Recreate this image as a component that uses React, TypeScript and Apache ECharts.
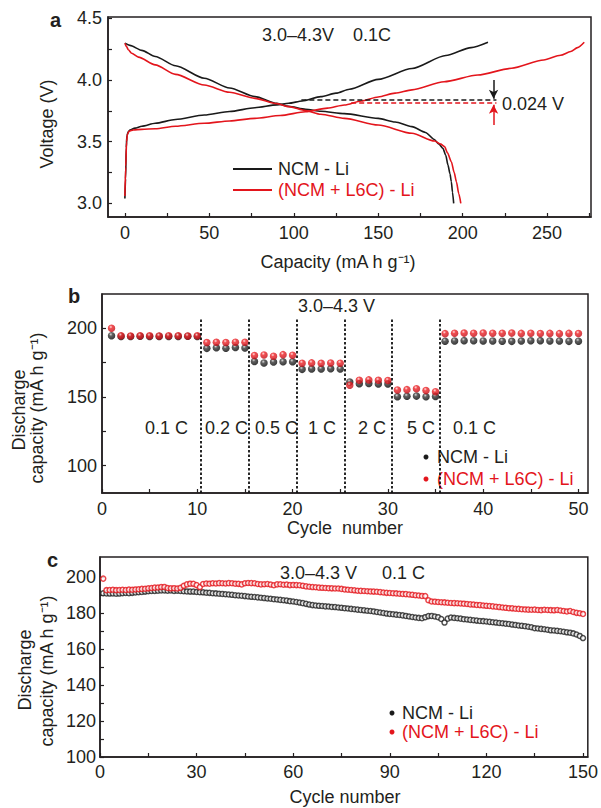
import React, { useEffect, useRef } from "react";
import * as echarts from "echarts";

const FONT = '"Liberation Sans", Arial, Helvetica, sans-serif';
const AX = "#231f20";
const TXT = "#231f20";
const RED = "#e3151c";
const BLK = "#1a1a1a";

// ---------- Panel a: charge/discharge curves [capacity, voltage] ----------
const aBlackCharge: [number, number][] = [
  [0, 3.04], [0.4, 3.2], [0.8, 3.45], [1.2, 3.55], [2, 3.58], [3, 3.595], [6, 3.61], [10, 3.625],
  [18, 3.649], [30, 3.68], [47, 3.716], [62, 3.745], [77, 3.775], [90, 3.798], [97, 3.811],
  [105, 3.83], [116, 3.865], [125, 3.893], [133, 3.925], [150, 4.005], [170, 4.093], [190, 4.198],
  [205, 4.262], [215, 4.305],
];
const aRedCharge: [number, number][] = [
  [0, 3.06], [0.5, 3.3], [1, 3.5], [1.5, 3.56], [2.5, 3.585], [5, 3.595], [10, 3.6], [18, 3.605],
  [30, 3.625], [47, 3.649], [62, 3.668], [77, 3.689], [92, 3.712], [107, 3.743], [120, 3.772],
  [130, 3.797], [140, 3.83], [150, 3.862], [160, 3.893], [170, 3.92], [189, 3.986], [209, 4.04],
  [229, 4.095], [248, 4.162], [258, 4.2], [264, 4.23], [268, 4.262], [272, 4.305],
];
const aBlackDischarge: [number, number][] = [
  [0, 4.298], [3, 4.28], [10, 4.24], [18, 4.19], [30, 4.115], [47, 4.014], [62, 3.935], [77, 3.865],
  [90, 3.81], [97, 3.786], [107, 3.762], [116, 3.746], [130, 3.727], [150, 3.689], [160, 3.66],
  [170, 3.622], [178, 3.575], [183, 3.52], [186, 3.48], [188.3, 3.446], [190, 3.39], [191.3, 3.311],
  [192.5, 3.24], [193.3, 3.176], [194, 3.09], [194.7, 3.0],
];
const aRedDischarge: [number, number][] = [
  [0, 4.298], [1, 4.27], [2, 4.245], [4, 4.216], [8, 4.185], [18, 4.122], [30, 4.045], [47, 3.959],
  [62, 3.9], [77, 3.851], [90, 3.808], [97, 3.784], [107, 3.752], [116, 3.722], [130, 3.689],
  [150, 3.635], [170, 3.568], [183.4, 3.505], [187, 3.48], [189.3, 3.46], [191, 3.41], [193.3, 3.338],
  [195, 3.25], [196.3, 3.176], [197.7, 3.08], [198.9, 3.0],
];
// mid-voltage guides [startCap, endCap, voltage]
const aBlackMid = [104.5, 220, 3.836];
const aRedMid = [134, 220, 3.812];
// arrows [cap, fromV, toV]
const aBlackArrow = [218.3, 4.0, 3.848];
const aRedArrow = [218.3, 3.635, 3.8];

const aXLabels = [0, 50, 100, 150, 200, 250];
const aXTicks = [0, 25, 50, 75, 100, 125, 150, 175, 200, 225, 250, 275];
const aYLabels = [3.0, 3.5, 4.0, 4.5];
const aYTicks = [3.0, 3.25, 3.5, 3.75, 4.0, 4.25, 4.5];

// ---------- Panel b: rate capability ----------
const bBlack = [
  194.6, 194.1, 194.0, 194.2, 194.0, 194.1, 194.0, 194.1, 194.2, 194.0,
  185.4, 185.8, 185.5, 186.0, 185.6,
  175.9, 174.7, 175.4, 175.6, 175.6,
  170.1, 170.4, 170.3, 170.5, 170.3,
  160.9, 159.6, 159.8, 159.4, 159.5,
  150.2, 150.5, 150.6, 150.1, 150.4,
  190.6, 190.8, 191.0, 190.9, 190.8, 190.7, 190.6, 190.5, 190.7, 190.9, 191.0, 190.8, 190.7, 190.5, 190.6,
];
const bRed = [
  200.0, 194.6, 194.4, 194.5, 194.5, 194.4, 194.6, 194.5, 194.4, 194.5,
  189.6, 189.8, 189.7, 189.9, 189.8,
  180.2, 180.6, 179.6, 180.8, 180.4,
  174.6, 174.8, 174.5, 174.7, 174.6,
  158.5, 162.2, 162.4, 162.1, 162.0,
  155.1, 155.3, 156.0, 154.7, 153.8,
  196.1, 196.4, 196.5, 196.4, 196.5, 196.4, 196.4, 196.5, 196.3, 196.4, 196.2, 196.3, 196.1, 196.3, 196.2,
];
const bBoundaries = [10.4, 15.45, 20.45, 25.45, 30.45, 35.45];
const bBoundaryTop = 207.3;
const bRates = ["0.1 C", "0.2 C", "0.5 C", "1 C", "2 C", "5 C", "0.1 C"];
const bXLabels = [0, 10, 20, 30, 40, 50];
const bXTicks = [0, 5, 10, 15, 20, 25, 30, 35, 40, 45, 50];
const bYLabels = [100, 150, 200];
const bYTicks = [100, 125, 150, 175, 200];

// ---------- Panel c: cycling ----------
const cBlack = [
  190.9, 190.8, 190.7, 190.8, 190.6, 190.7, 190.9, 191.0, 190.9, 191.1,
  191.3, 191.5, 191.6, 191.8, 192.0, 192.1, 192.2, 192.3, 192.4, 192.4,
  192.3, 192.4, 192.2, 192.3, 192.1, 192.0, 191.9, 191.8, 191.8, 191.6,
  191.5, 191.4, 191.2, 191.1, 190.9, 190.8, 190.6, 190.5, 190.3, 190.2,
  190.0, 189.8, 189.6, 189.5, 189.3, 189.1, 188.9, 188.8, 188.6, 188.4,
  188.2, 188.0, 187.8, 187.6, 187.4, 187.2, 187.0, 186.8, 186.5, 186.3,
  186.0, 185.7, 185.4, 185.0, 184.6, 184.3, 184.1, 183.9, 183.8, 183.6,
  183.5, 183.3, 183.2, 183.0, 182.8, 182.6, 182.4, 182.2, 182.0, 181.8,
  181.6, 181.4, 181.2, 181.0, 180.8, 180.5, 180.2, 179.9, 179.6, 179.4,
  179.2, 179.0, 178.8, 178.6, 178.3, 178.0, 177.7, 177.4, 177.2, 177.0,
  177.6, 178.2, 178.3, 178.0, 177.6, 176.6, 174.6, 176.8, 177.4, 177.2,
  177.0, 176.8, 176.5, 176.3, 176.1, 175.9, 175.7, 175.5, 175.4, 175.2,
  175.0, 174.8, 174.6, 174.4, 174.2, 174.0, 173.8, 173.5, 173.3, 173.0,
  172.8, 172.6, 172.3, 172.0, 171.5, 171.3, 171.1, 170.9, 170.6, 170.3,
  170.2, 170.0, 169.8, 169.5, 169.2, 169.0, 168.6, 168.0, 167.2, 166.0,
];
const cRed = [
  199.0, 192.6, 192.7, 192.8, 192.6, 192.7, 192.8, 192.7, 192.9, 192.8,
  193.0, 193.1, 193.3, 193.4, 193.6, 193.8, 194.0, 194.1, 194.3, 194.4,
  193.8, 193.6, 193.7, 193.5, 193.9, 195.0, 195.8, 196.2, 196.1, 195.4,
  194.3, 196.0, 196.3, 196.2, 196.4, 196.3, 196.5, 196.4, 196.3, 196.5,
  196.4, 196.2, 196.1, 195.8, 196.4, 196.6, 196.5, 196.4, 196.0, 195.8,
  195.9, 196.0, 195.7, 195.3, 195.8, 195.9, 195.6, 195.7, 195.4, 195.5,
  195.4, 195.3, 195.0, 194.7, 194.5, 194.3, 194.2, 194.0, 193.9, 193.8,
  193.7, 193.6, 193.5, 193.5, 193.3, 193.0, 192.8, 192.7, 192.5, 192.3,
  192.2, 192.1, 192.0, 191.9, 191.8, 191.7, 191.5, 191.3, 191.1, 191.0,
  190.9, 190.8, 190.6, 190.5, 190.4, 190.2, 190.0, 189.8, 189.6, 189.4,
  189.3, 187.0, 186.3, 186.2, 186.0, 185.9, 185.8, 185.6, 185.5, 185.4,
  185.3, 185.2, 185.1, 184.9, 184.7, 184.6, 184.4, 184.3, 184.1, 183.9,
  183.8, 183.6, 183.4, 183.2, 183.0, 182.8, 182.6, 182.5, 182.3, 182.2,
  182.0, 181.9, 181.8, 181.7, 181.8, 181.6, 181.5, 181.7, 181.6, 181.5,
  181.4, 181.6, 181.3, 181.0, 180.8, 181.0, 180.5, 180.0, 179.8, 179.4,
];
const cXLabels = [0, 30, 60, 90, 120, 150];
const cXTicks = [0, 15, 30, 45, 60, 75, 90, 105, 120, 135, 150];
const cYLabels = [100, 120, 140, 160, 180, 200];
const cYTicks = [100, 110, 120, 130, 140, 150, 160, 170, 180, 190, 200];

const NAME_BLACK = "NCM - Li";
const NAME_RED = "(NCM + L6C) - Li";

function axis(
  kind: "x" | "y",
  gridIndex: number,
  min: number,
  max: number,
  labels: number[],
  ticks: number[],
  margin: number,
  fmt?: (v: number) => string
) {
  return {
    type: "value",
    gridIndex,
    min,
    max,
    position: kind === "x" ? "bottom" : "left",
    axisLine: { show: true, onZero: false, lineStyle: { color: AX, width: 1.5 } },
    axisTick: {
      show: true,
      inside: true,
      length: 4,
      customValues: ticks,
      lineStyle: { color: AX, width: 1.2 },
    },
    axisLabel: {
      show: true,
      customValues: labels,
      margin,
      color: TXT,
      fontSize: 18,
      fontFamily: FONT,
      formatter: fmt ? (v: number) => fmt(v) : (v: number) => String(v),
    },
    splitLine: { show: false },
    minorTick: { show: false },
  };
}

function ball(c0: string, c1: string, c2: string) {
  return new echarts.graphic.RadialGradient(0.4, 0.32, 0.65, [
    { offset: 0, color: c0 },
    { offset: 0.35, color: c1 },
    { offset: 1, color: c2 },
  ]);
}

function txt(text: string, x: number, y: number, opts: any = {}) {
  return {
    type: "text",
    x,
    y,
    rotation: opts.rotation || 0,
    style: {
      text,
      fill: opts.fill || TXT,
      fontSize: opts.fontSize || 18,
      fontFamily: FONT,
      fontWeight: opts.fontWeight || "normal",
      align: opts.align || "left",
      verticalAlign: "middle",
    },
    silent: true,
  };
}

export default function App() {
  const ref = useRef<HTMLDivElement>(null);

  useEffect(() => {
    document.body.style.margin = "0";
    if (!ref.current) return;
    const chart = echarts.init(ref.current, undefined, { renderer: "svg" });

    const lineSeries = (name: string, data: [number, number][], color: string, extra: any = {}) => ({
      type: "line",
      name,
      xAxisIndex: 0,
      yAxisIndex: 0,
      data,
      showSymbol: false,
      smooth: 0.25,
      smoothMonotone: "x",
      lineStyle: { color, width: 1.6 },
      itemStyle: { color },
      z: 3,
      ...extra,
    });

    const guide = (from: [number, number], to: [number, number], color: string, dashed: boolean, arrow: boolean) => [
      { coord: from, symbol: "none" },
      {
        coord: to,
        symbol: arrow ? "arrow" : "none",
        symbolSize: arrow ? [7, 9] : 0,
        lineStyle: { color, width: 1.5, type: dashed ? [5, 3] : "solid" },
      },
    ];

    const option: any = {
      animation: false,
      backgroundColor: "#ffffff",
      textStyle: { fontFamily: FONT },
      grid: [
        { left: 108, top: 17, width: 483, height: 200, show: true, borderColor: AX, borderWidth: 1.5, backgroundColor: "transparent" },
        { left: 102, top: 294, width: 486, height: 199, show: true, borderColor: AX, borderWidth: 1.5, backgroundColor: "transparent" },
        { left: 100, top: 557, width: 488, height: 200, show: true, borderColor: AX, borderWidth: 1.5, backgroundColor: "transparent" },
      ],
      xAxis: [
        axis("x", 0, -10, 276, aXLabels, aXTicks, 7),
        axis("x", 1, 0, 51, bXLabels, bXTicks, 7),
        axis("x", 2, 0, 151.5, cXLabels, cXTicks, 6),
      ],
      yAxis: [
        axis("y", 0, 2.89, 4.51, aYLabels, aYTicks, 6, (v) => v.toFixed(1)),
        axis("y", 1, 80, 225, bYLabels, bYTicks, 5),
        axis("y", 2, 100, 211, cYLabels, cYTicks, 4),
      ],
      series: [
        lineSeries(NAME_BLACK, aBlackCharge, BLK, {
          markLine: {
            silent: true,
            animation: false,
            symbol: ["none", "none"],
            label: { show: false },
            data: [
              guide([aBlackMid[0], aBlackMid[2]], [aBlackMid[1], aBlackMid[2]], BLK, true, false),
              guide([aBlackArrow[0], aBlackArrow[1]], [aBlackArrow[0], aBlackArrow[2]], BLK, false, true),
            ],
          },
        }),
        lineSeries(NAME_BLACK, aBlackDischarge, BLK),
        lineSeries(NAME_RED, aRedCharge, RED, {
          markLine: {
            silent: true,
            animation: false,
            symbol: ["none", "none"],
            label: { show: false },
            data: [
              guide([aRedMid[0], aRedMid[2]], [aRedMid[1], aRedMid[2]], RED, true, false),
              guide([aRedArrow[0], aRedArrow[1]], [aRedArrow[0], aRedArrow[2]], RED, false, true),
            ],
          },
        }),
        lineSeries(NAME_RED, aRedDischarge, RED),
        {
          type: "scatter",
          name: NAME_BLACK,
          xAxisIndex: 1,
          yAxisIndex: 1,
          data: bBlack.map((v, i) => [i + 1, v]),
          symbol: "circle",
          symbolSize: 7.5,
          itemStyle: { color: ball("#d0d0d0", "#3a3a3a", "#0a0a0a"), borderWidth: 0 },
          markLine: {
            silent: true,
            animation: false,
            symbol: ["none", "none"],
            label: { show: false },
            lineStyle: { color: "#111", width: 1.8, type: [2.5, 2] },
            data: bBoundaries.map((x) => [{ coord: [x, 80] }, { coord: [x, bBoundaryTop] }]),
          },
          z: 3,
        },
        {
          type: "scatter",
          name: NAME_RED,
          xAxisIndex: 1,
          yAxisIndex: 1,
          data: bRed.map((v, i) => [i + 1, v]),
          symbol: "circle",
          symbolSize: 7.5,
          itemStyle: { color: ball("#ffd6d6", "#ee2226", "#c30f18"), borderWidth: 0 },
          z: 4,
        },
        {
          type: "scatter",
          name: NAME_BLACK,
          xAxisIndex: 2,
          yAxisIndex: 2,
          data: cBlack.map((v, i) => [i + 1, v]),
          symbol: "circle",
          symbolSize: 5,
          itemStyle: { color: "#ffffff", borderColor: "#222", borderWidth: 1.5 },
          z: 3,
        },
        {
          type: "scatter",
          name: NAME_RED,
          xAxisIndex: 2,
          yAxisIndex: 2,
          data: cRed.map((v, i) => [i + 1, v]),
          symbol: "circle",
          symbolSize: 5,
          itemStyle: { color: "#ffffff", borderColor: RED, borderWidth: 1.5 },
          z: 4,
        },
      ],
      graphic: [
        // panel letters
        txt("a", 50, 20, { fontWeight: "bold", fontSize: 20 }),
        txt("b", 68, 296, { fontWeight: "bold", fontSize: 20 }),
        txt("c", 47, 560, { fontWeight: "bold", fontSize: 20 }),
        // panel a annotations
        txt("3.0–4.3V", 262, 35),
        txt("0.1C", 353, 35),
        txt("0.024 V", 502, 104),
        { type: "line", shape: { x1: 233, y1: 169, x2: 272, y2: 169 }, style: { stroke: BLK, lineWidth: 2 }, silent: true },
        { type: "line", shape: { x1: 233, y1: 190, x2: 272, y2: 190 }, style: { stroke: RED, lineWidth: 2 }, silent: true },
        txt(NAME_BLACK, 278, 169),
        txt(NAME_RED, 278, 190, { fill: RED }),
        txt("Capacity (mA h g⁻¹)", 338, 262, { align: "center" }),
        txt("Voltage (V)", 47, 124, { align: "center", rotation: Math.PI / 2 }),
        // panel b annotations
        txt("3.0–4.3 V", 298, 306),
        txt(bRates[0], 145, 428),
        txt(bRates[1], 205, 428),
        txt(bRates[2], 255, 428),
        txt(bRates[3], 308, 428),
        txt(bRates[4], 358, 428),
        txt(bRates[5], 407, 428),
        txt(bRates[6], 453, 428),
        { type: "circle", shape: { cx: 426, cy: 457, r: 2.5 }, style: { fill: BLK }, silent: true },
        { type: "circle", shape: { cx: 426, cy: 479, r: 2.5 }, style: { fill: RED }, silent: true },
        txt(NAME_BLACK, 437, 457),
        txt(NAME_RED, 437, 479, { fill: RED }),
        txt("Cycle  number", 345, 528, { align: "center" }),
        txt("Discharge", 19, 410, { align: "center", rotation: Math.PI / 2 }),
        txt("capacity (mA h g⁻¹)", 37, 408, { align: "center", rotation: Math.PI / 2 }),
        // panel c annotations
        txt("3.0–4.3 V", 280, 573),
        txt("0.1 C", 382, 573),
        { type: "circle", shape: { cx: 392, cy: 713, r: 2.5 }, style: { fill: BLK }, silent: true },
        { type: "circle", shape: { cx: 392, cy: 732, r: 2.5 }, style: { fill: RED }, silent: true },
        txt(NAME_BLACK, 402, 713),
        txt(NAME_RED, 402, 732, { fill: RED }),
        txt("Cycle number", 345, 797, { align: "center" }),
        txt("Discharge", 25, 670, { align: "center", rotation: Math.PI / 2 }),
        txt("capacity (mA h g⁻¹)", 47, 671, { align: "center", rotation: Math.PI / 2 }),
      ],
    };

    chart.setOption(option);
    return () => chart.dispose();
  }, []);

  return (
    <div
      ref={ref}
      style={{ position: "absolute", left: 0, top: 0, width: 601, height: 808, background: "#fff" }}
    />
  );
}
